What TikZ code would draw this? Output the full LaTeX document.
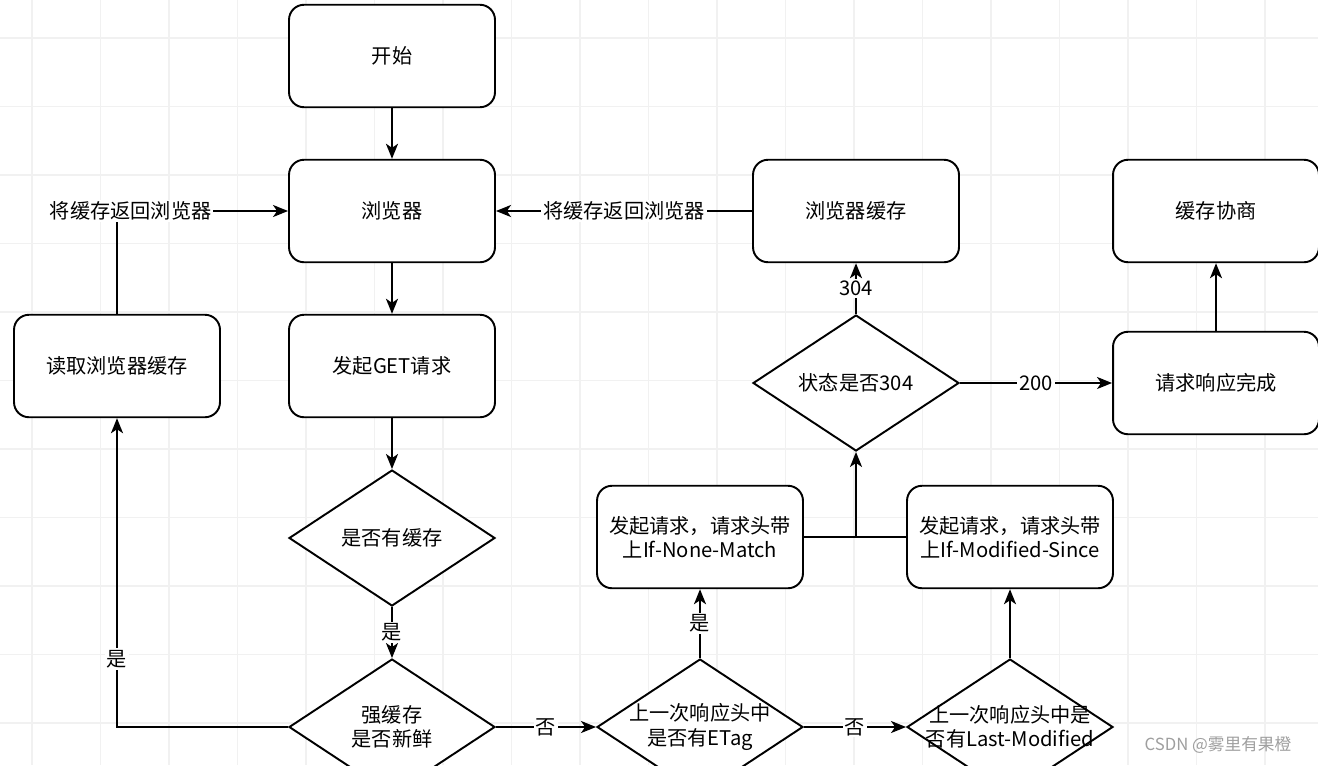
\documentclass[tikz,border=0pt]{standalone}
\usepackage{fontspec}
\setmainfont{Noto Sans CJK SC}
\usetikzlibrary{shapes.geometric,arrows.meta}

\tikzset{
  box/.style={draw, fill=white, line width=1.1pt, rounded corners=0.3cm,
    minimum width=4.12cm, minimum height=2.05cm, align=center},
  decision/.style={draw, fill=white, diamond, line width=1.1pt, inner sep=-0.4cm,
    minimum width=4.12cm, minimum height=2.72cm, align=center},
  flow/.style={line width=1.1pt, -{Stealth[length=0.3cm, width=0.24cm, inset=0.08cm]}},
  tag/.style={fill=white, inner sep=1pt},
  gridline/.style={gray!11, line width=0.6pt},
}

\begin{document}
\begin{tikzpicture}[x=0.02cm, y=-0.02cm, font=\fontsize{11.5pt}{13.8pt}\selectfont]
  \useasboundingbox (0,0) rectangle (1318,765);
  \clip (0,0) rectangle (1318,765);
  \fill[white] (0,0) rectangle (1318,765);

  % background grid
  \foreach \i in {0,...,19} {
    \draw[gridline] ({32+68.5*\i},0) -- ++(0,765);
  }
  \foreach \j in {0,...,11} {
    \draw[gridline] (0,{38+68.5*\j}) -- ++(1318,0);
  }

  % nodes
  \node[box] (start) at (392,56) {开始};
  \node[box] (browser) at (392,211) {浏览器};
  \node[box] (get) at (392,366) {发起GET请求};
  \node[box] (read) at (117,366) {读取浏览器缓存};
  \node[decision] (hascache) at (392,538) {是否有缓存};
  \node[decision] (fresh) at (392,727) {强缓存\\是否新鲜};
  \node[decision] (etag) at (700,727) {上一次响应头中\\是否有ETag};
  \node[decision] (lastmod) at (1010,727) {上一次响应头中是\\否有Last-Modified};
  \node[box] (nonematch) at (700,537) {发起请求，请求头带\\上If-None-Match};
  \node[box] (modsince) at (1010,537) {发起请求，请求头带\\上If-Modified-Since};
  \node[decision] (status) at (856,383) {状态是否304};
  \node[box] (cache) at (856,211) {浏览器缓存};
  \node[box] (done) at (1216,383) {请求响应完成};
  \node[box] (negotiate) at (1216,211) {缓存协商};
  \coordinate (join) at (856,537);

  % connectors
  \draw[flow] (start) -- (browser);
  \draw[flow] (browser) -- (get);
  \draw[flow] (get) -- (hascache);
  \draw[flow] (hascache) -- node[tag] {是} (fresh);
  \draw[flow] (fresh.west) -| node[tag, pos=0.61] {是} (read.south);
  \draw[flow] (read.north) |- node[tag, pos=0.54] {将缓存返回浏览器} (browser.west);
  \draw[flow] (fresh) -- node[tag] {否} (etag);
  \draw[flow] (etag) -- node[tag] {是} (nonematch);
  \draw[flow] (etag) -- node[tag] {否} (lastmod);
  \draw[flow] (lastmod) -- (modsince);
  \draw[line width=1.1pt] (nonematch) -- (modsince);
  \draw[flow] (join) -- (status);
  \draw[flow] (status) -- node[tag] {304} (cache);
  \draw[flow] (cache) -- node[tag] {将缓存返回浏览器} (browser);
  \draw[flow] (status) -- node[tag] {200} (done);
  \draw[flow] (done) -- (negotiate);

  \node[text=gray!75, font=\fontsize{9.5pt}{11pt}\selectfont] (mark) at (1218,745) {CSDN @雾里有果橙};
\end{tikzpicture}
\end{document}
